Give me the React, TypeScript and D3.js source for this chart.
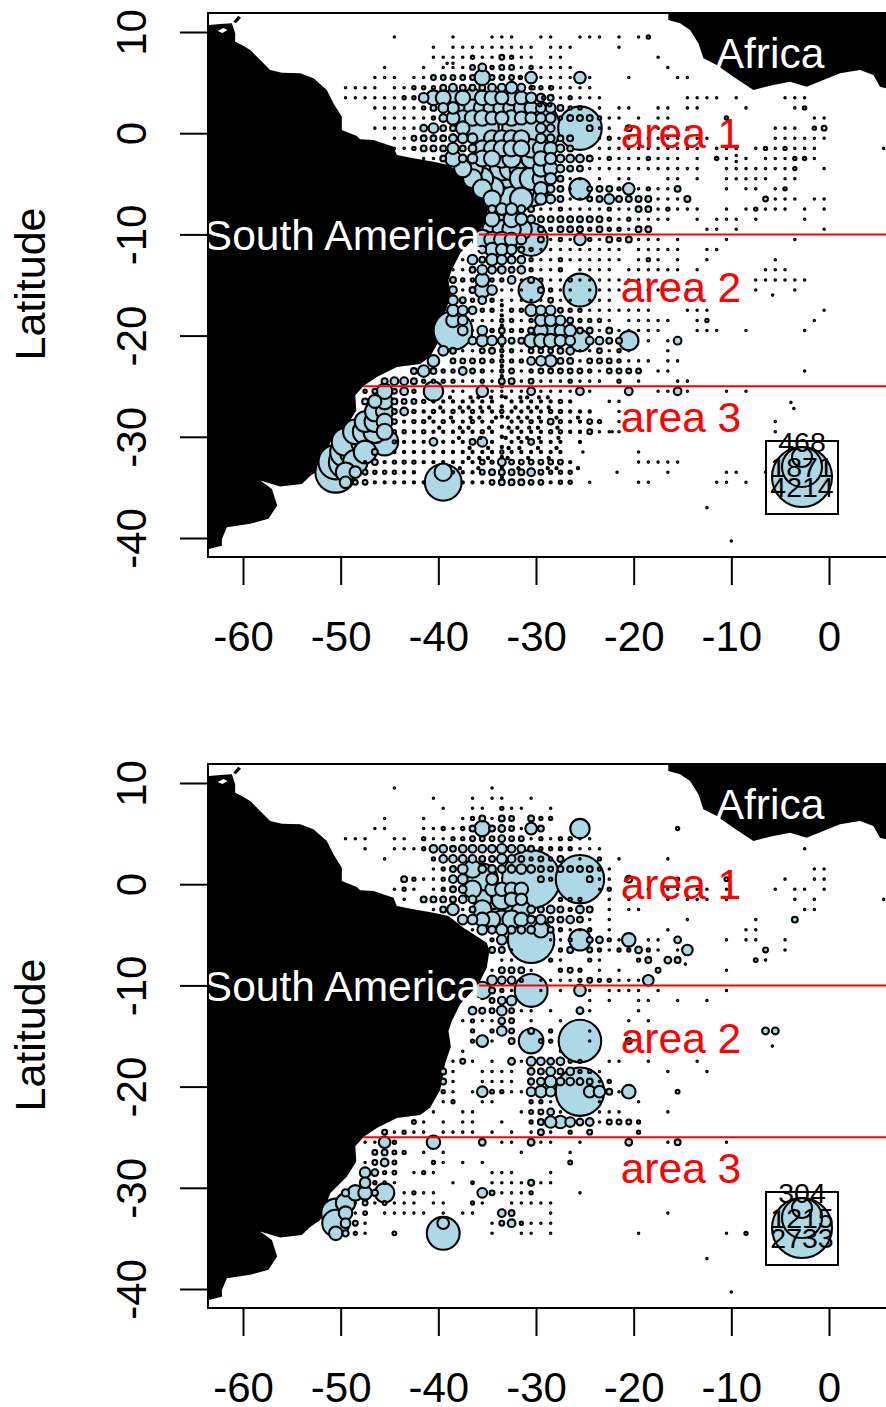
import React, { useEffect, useRef } from "react";
import * as d3 from "d3";

// map outlines, [lon, lat]
const southAmerica: [number, number][] = [
  [-66, 10.69], [-63.46, 10.69], [-62.33, 10.79], [-61.14, 10.86], [-60.8, 9.87], [-60.8, 9.04], [-60.12, 8.72],
  [-59.26, 8.22], [-58.24, 7.23], [-57.22, 6.25], [-56.02, 5.98], [-54.15, 5.92], [-52.78, 5.42], [-51.42, 4.27],
  [-50.74, 2.95], [-49.88, 1.63], [-49.88, 0.32], [-48.35, -0.28], [-48, -0.6], [-46.64, -0.67], [-44.59, -1.33],
  [-44.25, -2.15], [-42.54, -2.48], [-40.5, -2.81], [-38.96, -3.14], [-37.43, -4.3], [-35.04, -5.78], [-34.77, -6.6],
  [-35.04, -8.25], [-35.89, -9.89], [-37.77, -11.87], [-38.62, -13.52], [-38.96, -14.5], [-38.72, -16.05], [-39.3, -17.7],
  [-39.8, -20.3], [-40.84, -22.1], [-41.86, -22.8], [-44.25, -23.1], [-46.3, -24.1], [-47.63, -24.95], [-48.5, -25.9],
  [-48.4, -27.4], [-49.37, -28.9], [-51.07, -30.55], [-52.1, -33.2], [-53.1, -33.85], [-53.97, -34.67], [-56.2, -34.9],
  [-58.24, -34.33], [-57.04, -35.15], [-56.5, -36.8], [-57.4, -38.1], [-59.26, -38.6], [-61.65, -38.94], [-62.16, -40.1],
  [-62.16, -40.76], [-63.5, -41.08], [-66, -41.08],
];
const africa: [number, number][] = [
  [-16.45, 13], [-16.45, 11.19], [-15.25, 10.86], [-14.23, 10.2], [-13.37, 8.88], [-12.86, 7.4], [-11.5, 6.74], [-9.79, 5.59],
  [-7.74, 4.27], [-5.7, 4.76], [-3.99, 5.09], [-2.29, 4.6], [-0.58, 5.26], [1.13, 5.92], [3.17, 6.25], [4.54, 5.75],
  [5.22, 4.6], [5.84, 4.43], [8, 4.4], [8, 13],
];
const trinidad: [number, number][] = [[-61, 11], [-60.5, 11.6], [-60.2, 11.4], [-60.7, 10.9]];
const bay: [number, number][] = [[-62.6, 10.1], [-62, 10.4], [-61.6, 10.2], [-62.1, 9.9]];

const xTicks = [-60, -50, -40, -30, -20, -10, 0];
const yTicks = [10, 0, -10, -20, -30, -40];
const areaNames = ["area 1", "area 2", "area 3"];
const areaLimits = [-10, -25];

// rows: lat, then the west longitude index of each 1 degree cell (idx 30 is 30.5W)
const topDots: number[][] = [
  [9.5, 44, 38, 34, 33, 32, 29, 28, 25, 24, 23, 21, 19],
  [8.5, 40, 38, 37, 36, 35, 34, 33, 32, 31, 30, 28, 27, 26, 21],
  [7.5, 40, 39, 38, 37, 35, 34, 31, 30, 28, 27, 17],
  [6.9, 38.6, 38],
  [6.5, 45, 41, 39, 38, 37, 31, 29, 28, 27, 26, 16],
  [5.5, 46, 45, 44, 42, 41, 31, 29, 28, 27, 26, 24, 20, 15, 14],
  [4.5, 49, 48, 47, 46, 44, 43, 27, 26, 25, 24],
  [3.5, 49, 48, 47, 46, 45, 44, 27, 25, 24, 23, 14, 13, 12, 11, 9, 4, 3, 2],
  [2.5, 46, 45, 44, 43, 42, 23, 21, 20, 17, 16, 14, 13, 8, 3],
  [1.5, 45, 44, 43, 42, 41, 22, 21, 19, 17, 16, 1, 0],
  [0.5, 46, 45, 44, 43, 42, 23, 22, 17, 16, 14, 5, 4, 3],
  [-0.5, 44, 43, 23, 21, 20, 19, 18, 17, 16, 15, 14, 13, 12, 5, 4, 3, 2, 1, 0],
  [-1.5, 44, 43, 23, 22, 21, 20, 19, 18, 17, 16, 15, 14, 13, 11, 10, 9, 7, 5, 3, 2, 1, -6.1],
  [-2.2, 9], [-2.8, 9],
  [-2.5, 41, 40, 23, 21, 20, 19, 17, 16, 15, 13, 10, 8, 6, 5, 4, 1],
  [-3.5, 24, 23, 22, 21, 20, 19, 18, 17, 16, 15, 14, 13, 10, 9, 8, 7, 6, 5, 4, 0],
  [-4.5, 26, 25, 23, 21, 20, 16, 15, 13, 10, 9, 8, 7, 6, 4, 3],
  [-5.5, 26, 19, 17, 16, 10, 8, 7, 5],
  [-6.5, 26, 25, 17, 16, 15, 5, 4, 3, 1, 0],
  [-7.5, 29, 28, 26, 25, 24, 23, 21, 20, 17, 15, 14, 13, 10, 8, 6, 5, 4, 2, 0],
  [-8.5, 21, 19, 18, 17, 16, 13, 11, 10, 9, 7, 2],
  [-9.5, 20, 12, 11, 9, 0],
  [-10.5, 28, 26, 23, 19, 18, 17, 15, 10, 3],
  [-11.5, 29, 28, 27, 26, 25, 24, 23, 22, 21, 19, 18, 17, 16, 15, 12, 11],
  [-12.5, 37, 29, 28, 26, 25, 24, 23, 22, 21, 19, 17, 15, 12, 5],
  [-13.5, 38, 37, 29, 28, 25, 24, 23, 22, 20, 19, 18, 17, 16, 15, 13, 6, 5, 4],
  [-14.5, 31, 28, 27, 25, 24, 23, 22, 21, 20, 19, 18, 7, 6, 5, 4, 3, 2],
  [-15.5, 37, 33, 32, 31, 27, 26, 24, 23, 22, 21, 20, 19, 18, 17, 16, 15, 14, 13, 7, 3],
  [-16, 5.27],
  [-16.5, 33, 32, 31, 30, 29, 27, 26, 24, 23, 22],
  [-17.5, 33, 24, 23, 22, 21, 20, 19, 18, 14, 13, 12, 0],
  [-18.5, 36, 35, 34, 31, 22, 20, 19, 18, 17, 16, 13, 1],
  [-19.5, 36, 23, 21, 20, 19, 18, 17, 13, 12, 11, 8, 2],
  [-20.5, 18, 16],
  [-21.5, 37, 36, 31, 25, 24, 22, 20, 16],
  [-22.5, 25, 20, 19, 18, 16, 15],
  [-23.5, 34, 31, 23, 17, 16, 2],
  [-24.5, 37, 36, 34, 31, 29, 28, 27, 25, 24, 23, 19, 15, 14],
  [-25.5, 38, 37, 34, 33, 32, 31, 29, 28, 27, 26, 24, 17, 16, 14, 10, 8],
  [-26.5, 22, 21],
  [-26.6, 3.4],
  [-27.5, 21],
  [-27.2, 3.1],
  [-28.5, 21, 5],
  [-29.5, 23, 22, 21.7, 21, 5],
  [-31.5, 24.7, 19],
  [-32.5, 19, 18, 17, 16, 15],
  [-33.5, 21.2, 16, 10, 9, 6],
  [-34.5, 24, 19, 18, 11, 10, 8],
  [-37, 12],
  [-40.3, 9.5],
];

// the heavier, uneven positions south of 25S, and the dense line along 33.5W
const topSmear: number[][] = [
  [-26.1, 38.3, 36.2, 35.4, 34.1, 32.6, 31.1, 30.4, 29.2, 28.3],
  [-26.5, 40, 39, 38, 37, 36, 35, 34, 32, 31, 30, 29, 28, 26],
  [-27.1, 39.3, 37.3, 36.4, 35.2, 34.3, 31.6, 30.3, 29.4, 28.2],
  [-27.5, 41, 39, 37, 35, 34, 32, 31, 30, 29, 26, 25, 24],
  [-28.1, 40.4, 38.2, 36.2, 35.3, 33.6, 32.4, 31.3, 30.4, 29.2, 27.4, 25.2],
  [-28.5, 43, 40, 38, 37, 35, 34, 32, 31, 29, 26, 25],
  [-29.1, 39.4, 37.3, 36.4, 34.3, 32.3, 31.4, 30.2, 29.3, 27.3],
  [-29.5, 42, 40, 39, 38, 37, 36, 34, 32, 31, 30, 29, 26, 25],
  [-30.1, 37.4, 35.2, 32.6, 31.3, 30.4, 29.2, 27.2],
  [-30.5, 43, 42, 41, 39, 38, 37, 34, 32, 31, 29, 28, 27, 25],
  [-31.1, 36.3, 34.4, 32.3, 31.2, 29.3, 27.4],
  [-31.5, 44, 43, 42, 41, 40, 39, 38, 37, 36, 35, 34, 32, 31, 30, 29, 28, 27],
  [-32.1, 36.4, 35.3, 34.4, 32.4, 30.3, 28.2],
  [-32.5, 47, 45, 41, 40, 39, 38, 37, 36, 26],
  [-33.1, 37.3, 35.4, 31.3, 28.3, 27.4, 25.2],
  [-33.5, 43, 42, 38, 37, 36],
  [-34.5, 46, 45, 44, 43, 42, 41, 37, 36, 35, 28],
  [-17, 33], [-18, 33], [-19, 33], [-20, 33], [-21, 33], [-22, 33], [-23, 33], [-24, 33], [-25, 33], [-26, 33], [-27, 33], [-28, 33],
  [-29, 33], [-30, 33], [-31, 33], [-32, 33], [-33, 33], [-34, 33],
];

// rows: lat, then pairs of lon index and catch
const topBubbles: number[][] = [
  [9.5, 18, 13],
  [7.5, 36, 13, 33, 27, 32, 13],
  [6.5, 36, 27, 35, 70, 34, 13, 33, 27, 32, 27, 30, 13],
  [5.5, 40, 27, 39, 27, 38, 27, 37, 27, 36, 27, 35, 280, 34, 27, 33, 27, 32, 27, 30, 158, 25, 158, 31.1, 13],
  [4.5, 42, 13, 41, 13, 40, 13, 39, 40, 38, 70, 37, 40, 36, 40, 35, 40, 34, 70, 33, 70, 32, 158, 31, 70, 30, 13, 29.8, 13, 29, 13, 28, 13, 27.9, 13],
  [3.5, 43, 13, 42, 13, 41, 110, 40, 260, 39, 260, 38, 330, 37, 260, 36, 400, 35, 260, 34, 260, 33, 200, 32, 260, 31, 200, 30, 130, 29, 80, 28, 40, 28.7, 13, 26, 13],
  [2.8, 29.1, 13, 28.1, 13],
  [2.5, 41, 13, 40, 40, 39, 110, 38, 158, 37, 330, 36, 330, 35, 330, 34, 330, 33, 330, 32, 330, 31, 260, 30, 200, 29, 110, 28, 110, 27, 40, 26, 13, 25, 13, 2, 13],
  [1.5, 40, 13, 39, 70, 38, 200, 37, 280, 36, 280, 35, 280, 34, 200, 33, 200, 32, 280, 31, 200, 30, 150, 29, 110, 28, 110, 27, 13, 26, 40, 25, 40, 24, 40, 23, 13, 10, 13],
  [0.5, 41, 55, 40, 110, 39, 40, 38, 40, 37, 215, 35, 1270, 30, 3900, 29, 110, 28, 70, 25, 2220, 24, 40, 20, 40, 1, 13, 0, 27],
  [-0.5, 42, 27, 41, 40, 40, 40, 39, 40, 38, 70, 37, 110, 36, 110, 34, 300, 33, 300, 32, 300, 31, 300, 29, 110, 28, 70, 27, 40, 26, 40, 22, 13],
  [-1.5, 42, 13, 41, 40, 40, 40, 39, 40, 38, 150, 37, 40, 36, 70, 35, 300, 34, 300, 33, 300, 32, 300, 31, 300, 30, 400, 29, 300, 28, 200, 27, 70, 26, 40, 6, 13, 4, 13],
  [-2.5, 39, 40, 38, 300, 37, 70, 36, 110, 35, 300, 34, 300, 33, 400, 32, 400, 31, 450, 30, 450, 29, 250, 28, 150, 27, 70, 26, 70, 25, 70, 24, 40, 22, 13, 18, 13, 11, 13, 3, 13, 2, 13],
  [-3.5, 37, 350, 36, 500, 35, 650, 34, 650, 33, 650, 32, 650, 31, 650, 30, 650, 29, 300, 28, 220, 27, 70, 26, 40, 25, 40, 3, 13],
  [-4.5, 36, 420, 35, 560, 34, 700, 33, 700, 32, 700, 31, 620, 30, 600, 29, 320, 28, 150, 27, 40],
  [-5.5, 35, 420, 34, 650, 33, 800, 32, 800, 31, 800, 30, 1420, 29, 220, 28, 70, 27, 40, 25, 530, 24, 27, 23, 40, 22, 40, 21, 13, 20, 158, 18, 13, 15, 40, 4, 13],
  [-6.5, 34, 350, 33, 700, 32, 700, 31, 600, 29, 150, 28, 90, 27, 40, 24, 27, 23, 40, 22, 110, 21, 40, 20, 40, 19, 40, 18, 40, 14, 40, 6, 27],
  [-7.5, 34, 70, 33, 158, 32, 158, 31, 70, 30, 40, 27, 13, 22, 13, 19, 40, 18, 40, 16, 13, 7, 13],
  [-8.5, 34, 250, 33, 500, 32, 300, 31, 158, 30, 70, 29, 40, 28, 40, 27, 40, 26, 40, 25, 40, 24, 40, 23, 40, 22, 13, 20, 13],
  [-9.5, 34, 450, 33, 400, 32, 400, 31, 500, 29, 40, 28, 13, 27, 40, 26, 40, 25, 40, 24, 13, 23, 40, 22, 13, 21, 13, 19, 40, 18, 40],
  [-10.5, 35, 440, 34, 280, 33, 280, 32, 215, 31, 110, 30, 1270, 29, 40, 27, 13, 25, 158, 24, 13, 22, 40, 21, 13, 20, 40],
  [-11.5, 35, 70, 34, 215, 33, 158, 32, 110, 31, 40, 30, 13],
  [-12.5, 36, 110, 35, 40, 34, 158, 33, 110, 32, 70, 31, 70, 30, 13, 27, 13, 18, 13],
  [-13.5, 36, 40, 35, 110, 34, 70, 33, 70, 32, 40, 31, 70, 30, 13, 27, 13],
  [-14.5, 38, 40, 37, 13, 36, 13, 35, 215, 34, 13, 33, 13, 32, 70, 30, 40, 29, 13, 26, 13],
  [-15.5, 38, 70, 36, 40, 35, 280, 34, 110, 30, 740, 29, 40, 28, 13, 25, 1270],
  [-16.5, 38, 110, 37, 40, 36, 13, 35, 70, 34, 13, 28, 27],
  [-17.5, 38, 158, 37, 110, 36, 70, 35, 13, 34, 13, 32, 13, 31, 13, 30, 158, 29, 110, 28, 110, 27, 27, 26, 13, 25, 13],
  [-18.5, 38, 215, 37, 110, 33, 13, 32, 13, 30, 13, 29, 158, 28, 158, 27, 110, 26, 40, 25, 13, 24, 13, 23, 13, 12, 13],
  [-19.5, 38, 1750, 37, 110, 35, 110, 34, 13, 33, 40, 32, 13, 31, 13, 30, 40, 29, 215, 28, 280, 27, 158, 26, 158, 25, 40, 24, 40, 22, 40],
  [-20.5, 36, 70, 35, 158, 34, 110, 33, 70, 32, 40, 31, 40, 30, 215, 29, 215, 28, 215, 27, 158, 26, 110, 25, 530, 24, 70, 23, 70, 22, 40, 21, 40, 20, 440, 15, 70],
  [-21.5, 39, 110, 38, 40, 35, 27, 34, 40, 33, 13, 32, 13, 30, 27, 29, 27, 28, 27, 27, 40, 26, 70, 23, 27, 21, 13],
  [-22.5, 40, 158, 38, 27, 37, 27, 36, 27, 35, 27, 34, 13, 33, 13, 32, 13, 31, 13, 30, 70, 29, 110, 28, 158, 27, 40, 26, 40, 24, 27, 23, 27, 22, 27, 21, 13],
  [-23.5, 42, 40, 41, 158, 40, 40, 39, 13, 38, 13, 37, 70, 36, 27, 35, 13, 33, 13, 32, 27, 30, 13, 29, 27, 28, 27, 27, 27, 26, 27, 25, 27, 24, 13, 22, 27, 21, 27, 20, 27, 19, 27],
  [-24.5, 45, 40, 44, 70, 43, 70, 42, 40, 41, 13, 40, 13, 39, 13, 38, 13, 35, 13, 33, 40, 32, 40, 30, 27, 26, 13, 21, 13],
  [-25.5, 47, 13, 46, 27, 45, 280, 44, 27, 43, 70, 42, 13, 40, 440, 35, 158, 30, 70, 25, 70, 20, 70, 15, 70],
  [-26.5, 47, 40, 46, 200, 45, 300, 44, 40, 43, 27, 42, 27, 41, 13, 27, 13],
  [-27.5, 46, 450, 45, 350, 44, 27, 43, 70, 42, 13, 40, 13, 38, 13, 36, 13, 33, 13, 28, 13, 27, 13],
  [-28.5, 47, 500, 46, 500, 45, 300, 44, 27, 42, 13, 41, 13, 39, 13, 36, 13, 30, 13, 28, 40, 27, 13, 24, 27, 23, 13],
  [-29.5, 48, 700, 47, 700, 46, 600, 45, 300, 44, 13, 43, 13, 41, 13, 35, 13, 28, 13, 27, 13, 24, 27],
  [-30.5, 49, 900, 48, 1000, 47, 900, 45, 860, 44, 13, 40, 70, 36, 40, 35, 110, 30, 40],
  [-31.5, 49, 1100, 48, 1100, 47, 600, 46, 40, 33, 13],
  [-32.5, 50, 1400, 49, 1300, 48, 700, 46, 40, 44, 13, 43, 13, 42, 13, 35, 27, 34, 13, 33, 70, 32, 27, 31, 27, 30, 27, 29, 27, 28, 27, 27, 27],
  [-33.5, 50, 1950, 49, 440, 48, 158, 47, 27, 46, 13, 45, 13, 44, 13, 39, 355, 35, 27, 34, 40, 33, 40, 32, 40, 31, 40, 30, 70, 29, 27, 28, 13, 27, 13, 26, 13, 3, 110, 0, 110],
  [-34.5, 49, 158, 48, 27, 47, 27, 39, 1580, 34, 27, 33, 40, 32, 40, 31, 40, 30, 27, 29, 27, 27, 13, 26, 13],
];

const bottomDots: number[][] = [
  [9.5, 44, 34],
  [8.5, 40, 36, 34, 33, 30],
  [7.5, 39, 36, 35, 32, 31, 28],
  [6.5, 45, 41, 37, 34],
  [5.5, 46, 45, 41, 40, 38, 31],
  [4.5, 49, 48, 47, 44, 43, 40, 39, 30, 28, 25, 24],
  [3.5, 47, 44, 43, 42, 25, 24, 23, 2],
  [2.5, 45, 25, 21, 16],
  [1.5, 40, 22, 1, 0],
  [0.5, 41, 40, 23, 22, 4, 1, 0],
  [-0.5, 44, 42, 40, 23, 18, 16, 15, 13, 12, 10, 5, 3, 2, 0],
  [-1.5, 43, 22, 20, 16, 14, 13, 12, 10, 3, 1, -6.1],
  [-2.5, 40, 37, 22, 20, 19, 2, 1],
  [-3.5, 24, 22, 14, 7],
  [-4.5, 36, 26, 25, 22, 16, 8, 7],
  [-5.5, 28, 27, 21, 18, 17, 10, 8, 7, 4],
  [-6.5, 32, 22, 17, 15, 4],
  [-7.5, 33, 32, 27, 23, 6],
  [-7.9, 14.2],
  [-8.5, 34, 30, 23, 21, 10],
  [-9.5, 29, 28, 27, 26, 21, 20, 19],
  [-10.5, 32, 29, 27, 24, 22, 21, 20, 19, 17, 10],
  [-11.5, 24, 22, 19, 18, 15, 12],
  [-12.5, 31, 30, 28, 24, 19],
  [-13.5, 37, 35, 34, 30, 27, 20, 18],
  [-14.5, 24],
  [-15.5, 34, 24],
  [-16, 5.3],
  [-16.5, 37, 27],
  [-17.5, 38, 36, 34, 31, 22, 21, 18, 13],
  [-18.5, 38, 35, 34, 33, 32, 23, 16, 12],
  [-19.5, 38, 35, 34, 33, 32, 23],
  [-20.5, 38, 36, 32, 31, 21],
  [-21.5, 39, 35, 34, 28, 23, 19],
  [-22.5, 40, 37, 36, 31, 27, 23, 22, 21, 16],
  [-23.5, 41, 39, 37, 36, 33, 23],
  [-24.5, 44, 42, 41, 39, 38, 37, 36, 34, 32, 30, 28],
  [-25.5, 47, 46, 33, 32, 29, 28, 25, 16, 10],
  [-26.5, 41, 39, 31, 26],
  [-27.5, 47, 39, 37, 35],
  [-28.5, 42, 40, 34, 33, 32, 28],
  [-29.5, 44, 38, 34, 33, 32, 31, 29, 28],
  [-30.5, 43, 41, 40, 33, 32, 31, 25],
  [-31.5, 48, 46, 44, 43, 42, 40, 39, 35, 32, 31, 30, 29, 28],
  [-32.5, 48, 45, 44, 43, 42, 41, 39, 37, 36, 28, 16],
  [-33.5, 47, 34, 30, 29, 28],
  [-34.5, 47, 34, 31, 30, 28, 19, 10],
  [-37, 12],
  [-40.3, 9.5],
];

const bottomBubbles: number[][] = [
  [7.5, 33, 8],
  [6.5, 36, 8, 35, 26, 33, 26, 32, 18, 30, 26, 29, 8, 28, 8],
  [5.5, 39, 8, 37, 8, 36, 26, 35, 182, 34, 26, 33, 35, 32, 18, 30, 102, 29, 26, 25, 284, 15, 8],
  [4.5, 41, 8, 38, 8, 37, 8, 36, 18, 35, 18, 34, 18, 33, 35, 32, 18, 31, 18, 29, 8, 27, 8, 26, 8],
  [3.5, 41, 8, 40, 45, 39, 45, 38, 26, 37, 45, 36, 45, 35, 45, 34, 45, 33, 71, 32, 45, 31, 45, 30, 26, 29, 8, 28, 8, 27, 8, 26, 8],
  [2.5, 40, 8, 39, 45, 38, 45, 37, 45, 36, 45, 35, 26, 34, 26, 33, 71, 32, 45, 31, 26, 30, 8, 29, 18, 28, 8, 27, 26, 23, 8],
  [1.5, 39, 8, 38, 26, 37, 71, 36, 230, 35, 45, 34, 45, 33, 45, 32, 45, 31, 71, 30, 45, 29, 26, 28, 18, 27, 26, 26, 26, 25, 26, 24, 26, 23, 8],
  [0.5, 43, 26, 42, 8, 39, 8, 38, 45, 37, 71, 35, 727, 34, 102, 30, 2556, 29, 26, 28, 8, 25, 1775, 24, 26, 20, 35, 15, 8, 10, 11],
  [-0.5, 43, 8, 39, 8, 38, 26, 37, 45, 36, 230, 34, 139, 33, 139, 32, 139, 31, 139, 22, 8],
  [-1.5, 41, 26, 40, 26, 39, 26, 38, 26, 37, 45, 36, 45, 35, 260, 34, 300, 33, 300, 32, 139, 31, 102, 27, 8, 26, 8, 25, 8],
  [-2.5, 39, 26, 38, 102, 36, 26, 35, 260, 34, 320, 33, 400, 32, 400, 31, 260, 30, 45, 29, 26, 28, 45, 27, 26, 26, 8, 25, 45, 24, 26],
  [-3.5, 37, 71, 36, 71, 35, 150, 34, 200, 33, 260, 32, 260, 31, 150, 30, 45, 29, 71, 28, 26, 27, 26, 26, 45, 25, 26, 3, 26],
  [-4.5, 35, 71, 34, 45, 33, 102, 32, 45, 31, 45, 30, 45, 29, 182, 28, 26, 27, 8, 24, 8],
  [-5.5, 34, 8, 33, 71, 30, 1636, 26, 8, 25, 345, 24, 26, 23, 35, 22, 8, 20, 139, 15, 35],
  [-6.5, 34, 26, 33, 26, 27, 8, 26, 26, 24, 18, 23, 8, 21, 8, 20, 8, 19, 35, 18, 8, 14, 85, 6, 18],
  [-7.5, 28, 8, 24, 8, 19, 8, 18, 26, 16, 35, 15, 26, 7, 11],
  [-8.5, 33, 26, 32, 26, 31, 26, 27, 8, 26, 18, 25, 8, 17, 18],
  [-9.5, 34, 71, 33, 45, 32, 45, 31, 8, 25, 8, 24, 18, 23, 8, 22, 8, 18, 85],
  [-10.5, 35, 230, 34, 26, 33, 8, 30, 820, 25, 102],
  [-11.5, 34, 18, 33, 45, 32, 71],
  [-12.5, 36, 45, 35, 26, 34, 18, 33, 71, 32, 18, 25, 35],
  [-13.5, 36, 8, 33, 35, 32, 18],
  [-14.5, 36, 8, 34, 8, 33, 71, 32, 18, 30, 26, 28, 8, 6, 35, 5, 35],
  [-15.5, 36, 8, 35, 102, 32, 26, 30, 460, 29, 11, 28, 8, 25, 1375, 20, 26],
  [-17.5, 37, 18, 32, 35, 30, 60, 29, 45, 28, 35, 27, 45, 26, 8, 25, 8],
  [-18.5, 39, 26, 30, 35, 29, 26, 28, 60, 27, 26, 26, 45, 25, 8, 24, 8],
  [-19.5, 39, 26, 30, 30, 29, 45, 28, 102, 27, 45, 26, 45, 25, 35, 24, 26, 22, 8],
  [-20.5, 39, 8, 35, 85, 34, 11, 33, 8, 30, 60, 29, 102, 28, 71, 25, 1775, 24, 102, 23, 102, 22, 26, 20, 139, 15, 11],
  [-21.5, 38, 8, 30, 8, 29, 8],
  [-22.5, 30, 11, 29, 18, 28, 35],
  [-23.5, 42, 11, 30, 8, 29, 26, 28, 102, 27, 120, 26, 71, 25, 35, 24, 45, 22, 18, 21, 18, 20, 18, 19, 8],
  [-24.5, 45, 18, 43, 8, 29, 26, 26, 8, 24, 18, 19, 8],
  [-25.5, 45, 102, 44, 8, 40, 139, 35, 35, 30, 35, 20, 35, 15, 26],
  [-26.5, 46, 18, 45, 26, 44, 11, 43, 8],
  [-27.5, 46, 18, 45, 45, 44, 11, 40, 8, 26, 11],
  [-28.5, 47, 85, 46, 35, 45, 8, 44, 11, 41, 8],
  [-29.5, 47, 85, 46, 8, 45, 6, 36, 6, 30, 26],
  [-30.5, 49, 40, 48, 182, 47, 139, 46, 30, 45, 284, 42, 8, 35, 71, 34, 18, 30, 8],
  [-31.5, 49, 284, 47, 18, 45, 11, 36, 8],
  [-32.5, 50, 640, 49, 139, 47, 11, 33, 45, 32, 26],
  [-33.5, 50, 557, 49, 71, 48, 18, 39, 102, 33, 18, 32, 45, 31, 8, 0, 71],
  [-34.5, 50, 139, 49, 30, 48, 8, 44, 11, 39, 820, 8, 8],
];

const topLegend = [4214, 1871, 468];
const bottomLegend = [2733, 1215, 304];
const dotValue = 2.5;
const smearValue = 6;

const FONT = "'Liberation Sans', Arial, sans-serif";

// one lat/lon cell list per panel
const expandPoints = (dots: number[][], smear: number[][], bubbles: number[][], unit: number) => {
  const pts: { lon: number; lat: number; v: number }[] = [];
  dots.forEach(([lat, ...lons]) => lons.forEach(i => pts.push({ lon: -(i + 0.5), lat, v: dotValue * unit })));
  smear.forEach(([lat, ...lons]) => lons.forEach(i => pts.push({ lon: -(i + 0.5), lat, v: smearValue * unit })));
  bubbles.forEach(([lat, ...rest]) => {
    for (let k = 0; k < rest.length; k += 2) pts.push({ lon: -(rest[k] + 0.5), lat, v: rest[k + 1] });
  });
  return pts.sort((a, b) => d3.descending(a.v, b.v));
};

const App = () => {
  const ref = useRef<SVGSVGElement>(null);

  useEffect(() => {
    const svg = d3.select(ref.current);
    svg.selectAll("*").remove();

    const clip = svg.append("defs").append("clipPath").attr("id", "frame");
    clip.append("rect").attr("x", 208).attr("y", 13).attr("width", 678).attr("height", 544);

    const drawPanel = (dy: number, dots: number[][], smear: number[][], bubbles: number[][], legend: number[]) => {
      const g = svg.append("g").attr("transform", `translate(0,${dy})`);
      const x = d3.scaleLinear().domain([-60, 0]).range([243, 829]);
      const y = d3.scaleLinear().domain([10, -40]).range([32, 538]);
      const r = d3.scaleSqrt().domain([0, legend[0]]).range([0, 30]);
      const line = d3.line<[number, number]>().x(d => x(d[0])).y(d => y(d[1]));

      const plot = g.append("g").attr("clip-path", "url(#frame)");
      plot.selectAll("path.land")
        .data([southAmerica, africa, trinidad])
        .join("path")
        .attr("class", "land")
        .attr("d", d => line(d) + "Z")
        .attr("fill", "#000");
      plot.append("path").attr("d", line(bay) + "Z").attr("fill", "#fff");

      plot.selectAll("circle.pt")
        .data(expandPoints(dots, smear, bubbles, legend[0] / 4214))
        .join("circle")
        .attr("class", "pt")
        .attr("cx", d => x(d.lon))
        .attr("cy", d => y(d.lat))
        .attr("r", d => r(d.v))
        .attr("fill", "#add8e6")
        .attr("stroke", "#000")
        .attr("stroke-width", 2.1);

      const label = (t: string, px: number, py: number, fill: string) =>
        plot.append("text").text(t)
          .attr("x", px).attr("y", py)
          .attr("text-anchor", "middle")
          .attr("font-family", FONT).attr("font-size", 42.5)
          .attr("fill", fill);

      label("South America", 342, 250, "#fff");
      label("Africa", 770, 68, "#fff");

      areaLimits.forEach((lat, i) => {
        plot.append("line")
          .attr("x1", i === 0 ? 479 : 363).attr("x2", 886)
          .attr("y1", y(lat)).attr("y2", y(lat))
          .attr("stroke", "#f00").attr("stroke-width", 2);
      });
      [148, 302, 432].forEach((py, i) => label(areaNames[i], 681, py, "#f00"));

      // bubble size key, nested at the top
      const keyX = 802, keyTop = 447;
      legend.forEach(v => {
        plot.append("circle")
          .attr("cx", keyX).attr("cy", keyTop + r(v)).attr("r", r(v))
          .attr("fill", "#add8e6").attr("stroke", "#000").attr("stroke-width", 2.1);
      });
      [497, 477, 452].forEach((py, i) => {
        plot.append("text").text(legend[i])
          .attr("x", keyX).attr("y", py)
          .attr("text-anchor", "middle")
          .attr("font-family", FONT).attr("font-size", 28.5)
          .attr("fill", "#000");
      });
      plot.append("rect")
        .attr("x", 766).attr("y", 441).attr("width", 72).attr("height", 73)
        .attr("fill", "none").attr("stroke", "#000").attr("stroke-width", 2);

      g.append("rect")
        .attr("x", 208).attr("y", 13).attr("width", 700).attr("height", 544)
        .attr("fill", "none").attr("stroke", "#000").attr("stroke-width", 2);

      const xAxis = g.append("g")
        .attr("transform", "translate(0,557)")
        .call(d3.axisBottom(x).tickValues(xTicks).tickSize(28).tickPadding(36).tickFormat(d => String(d)));
      const yAxis = g.append("g")
        .attr("transform", "translate(208,0)")
        .call(d3.axisLeft(y).tickValues(yTicks).tickSize(28).tickFormat(d => String(d)));
      [xAxis, yAxis].forEach(a => {
        a.select(".domain").remove();
        a.selectAll("line").attr("stroke", "#000").attr("stroke-width", 2);
        a.selectAll("text")
          .attr("font-family", FONT).attr("font-size", 42).attr("fill", "#000");
      });
      yAxis.selectAll("text")
        .attr("x", null).attr("y", null).attr("dy", null)
        .attr("text-anchor", "middle")
        .attr("transform", "translate(-62,0) rotate(-90)");

      g.append("text").text("Latitude")
        .attr("transform", "translate(45,284) rotate(-90)")
        .attr("text-anchor", "middle")
        .attr("font-family", FONT).attr("font-size", 43)
        .attr("fill", "#000");
    };

    drawPanel(0, topDots, topSmear, topBubbles, topLegend);
    drawPanel(751, bottomDots, [], bottomBubbles, bottomLegend);
  }, []);

  return (
    <svg
      ref={ref}
      width={886}
      height={1407}
      style={{ position: "absolute", left: 0, top: 0, display: "block", background: "#fff" }}
    />
  );
};

export default App;
